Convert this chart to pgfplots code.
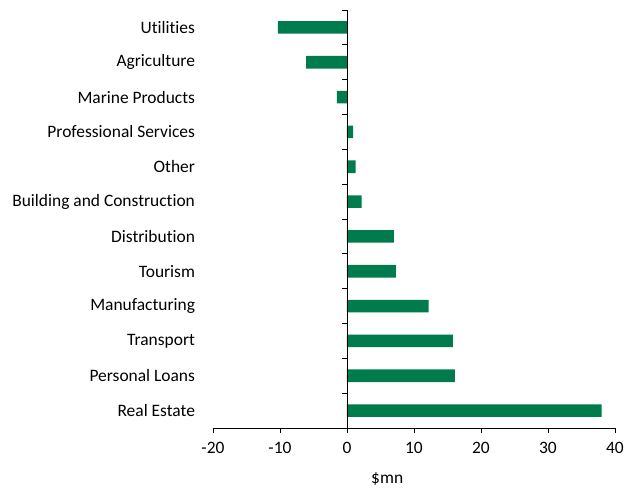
\documentclass[border=0pt]{standalone}
\usepackage{pgfplots}
\pgfplotsset{compat=1.18}
\usepackage{fontspec}
\setmainfont[Ligatures=NoCommon]{Carlito}
\definecolor{bargreen}{RGB}{0,123,76}
\begin{document}
\fontsize{17.5}{21}\selectfont
\begin{tikzpicture}
\useasboundingbox (-213bp,-66bp) rectangle (424bp,428bp);
\begin{axis}[
  at={(0,0)}, anchor=south west,
  scale only axis, width=402bp, height=418bp,
  xmin=-20, xmax=40, ymin=-0.5, ymax=11.5,
  xtick={-20,-10,...,40},
  axis x line=bottom, axis y line=left,
  x axis line style={-, black, line width=0.8pt},
  y axis line style={draw=none},
  xtick style={black, line width=0.8pt},
  tick align=outside, major tick length=5bp,
  ytick={0,...,11},
  yticklabels={Real Estate,Personal Loans,Transport,Manufacturing,Tourism ,Distribution,Building and Construction,Other,Professional Services,Marine Products,Agriculture,Utilities },
  ytick style={draw=none},
  yticklabel style={xshift=-7bp},
  /pgf/number format/assume math mode=true,
  xticklabel style={yshift=-3bp},
  xlabel={\$mn},
  xlabel style={at={(axis cs:6,-0.5)}, anchor=north, yshift=-38bp},
  clip=false,
]
\addplot[xbar, bar width=0.36, fill=bargreen, draw=none] coordinates {
(38.0,0) (16.1,1) (15.8,2) (12.2,3) (7.3,4) (7.0,5) (2.2,6) (1.3,7) (0.9,8) (-1.5,9) (-6.1,10) (-10.3,11)
};
\draw[black, line width=0.8pt] (axis cs:0,-0.5) -- (axis cs:0,11.5);
\pgfplotsinvokeforeach{-0.5,0.5,1.5,2.5,3.5,4.5,5.5,6.5,7.5,8.5,9.5,10.5,11.5}{
  \draw[black, line width=0.8pt] (axis cs:0,#1) -- ([xshift=-5bp]axis cs:0,#1);
}
\end{axis}
\end{tikzpicture}
\end{document}
